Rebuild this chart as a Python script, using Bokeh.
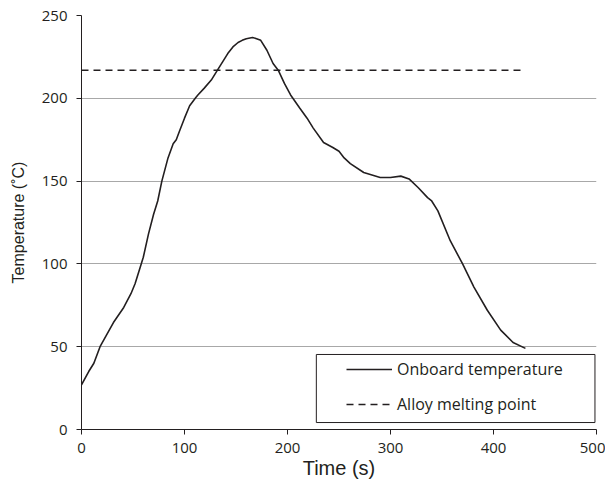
from bokeh.plotting import figure
from bokeh.models import Range1d, FixedTicker, Legend, LegendItem, BoxAnnotation
from bokeh.embed import file_html
from bokeh.resources import INLINE

time_s = [0, 7, 12, 18, 31, 41, 48, 52, 57, 60, 65, 70, 74, 78, 84, 89, 92, 95,
          100, 105, 111, 113, 119, 126, 132, 142, 147, 152, 156, 160, 166, 170,
          174, 180, 186, 191, 197, 203, 212, 219, 225, 235, 244, 250, 255, 261,
          274, 290, 300, 310, 318, 327, 336, 340, 346, 358, 370, 381, 394, 407,
          419, 431]
onboard_temp = [27, 35, 40, 50, 64.6, 73.7, 82, 88, 98, 104, 118, 130, 138, 150,
                164, 172.5, 175, 180, 188, 195.5, 200.5, 202, 206, 211, 217, 227,
                231, 233.7, 235, 236, 236.7, 236, 235, 229, 221, 217, 209, 202,
                194, 188, 182, 173.3, 170.3, 168, 164, 160.6, 155.2, 152.2, 152.2,
                153, 151.3, 146, 140, 138, 132, 114, 100, 86, 72, 60, 52.5, 49]
melt_time = [0, 431]
melt_temp = [217, 217]

x_ticks = [0, 100, 200, 300, 400, 500]
y_ticks = [0, 50, 100, 150, 200, 250]

dark = "#231f20"

p = figure(width=605, height=482, output_backend="svg", toolbar_location=None,
           x_range=Range1d(0, 500), y_range=Range1d(0, 250),
           min_border_left=81, min_border_right=9, min_border_top=15,
           min_border_bottom=53)
p.outline_line_color = None
p.background_fill_color = "white"
p.border_fill_color = "white"

p.xgrid.grid_line_color = None
p.ygrid.grid_line_color = "#a8a8a8"
p.ygrid.grid_line_width = 1
p.ygrid.ticker = FixedTicker(ticks=y_ticks)

for ax in (p.xaxis[0], p.yaxis[0]):
    ax.axis_line_color = dark
    ax.axis_line_width = 1
    ax.major_tick_line_color = dark
    ax.major_tick_out = 5
    ax.major_tick_in = 0
    ax.minor_tick_line_color = None
    ax.major_label_text_font = "Open Sans"
    ax.major_label_text_font_size = "15px"
    ax.major_label_text_color = dark
    ax.axis_label_text_font = "Liberation Sans"
    ax.axis_label_text_font_style = "normal"
    ax.axis_label_text_color = dark

p.xaxis.ticker = FixedTicker(ticks=x_ticks)
p.yaxis.ticker = FixedTicker(ticks=y_ticks)
p.xaxis.axis_label = "Time (s)"
p.xaxis.axis_label_text_font_size = "20px"
p.xaxis.major_label_standoff = 8
p.xaxis.axis_label_standoff = 1
p.yaxis.axis_label = "Temperature (\u02daC)"
p.yaxis.axis_label_text_font_size = "16px"
p.yaxis.major_label_standoff = 9
p.yaxis.axis_label_standoff = 12

r1 = p.line(time_s, onboard_temp, line_color=dark, line_width=1.6)
r2 = p.line(melt_time, melt_temp, line_color=dark, line_width=1.5, line_dash="7 5")

box = BoxAnnotation(left=228, right=498.5, bottom=4.2, top=45.3,
                    fill_color="white", fill_alpha=1.0,
                    line_color=dark, line_alpha=1.0, line_width=1, level="overlay")
p.add_layout(box)

legend = Legend(items=[LegendItem(label="Onboard temperature", renderers=[r1]),
                       LegendItem(label="Alloy melting point", renderers=[r2])],
                location=(265, 14), padding=0, spacing=13, label_height=20,
                glyph_width=46, glyph_height=20, label_standoff=5,
                border_line_color=None, background_fill_alpha=0,
                label_text_font="Open Sans", label_text_font_size="16px",
                label_text_color=dark, margin=0)
p.add_layout(legend, "center")

open("out.html", "w").write(file_html(p, INLINE))
